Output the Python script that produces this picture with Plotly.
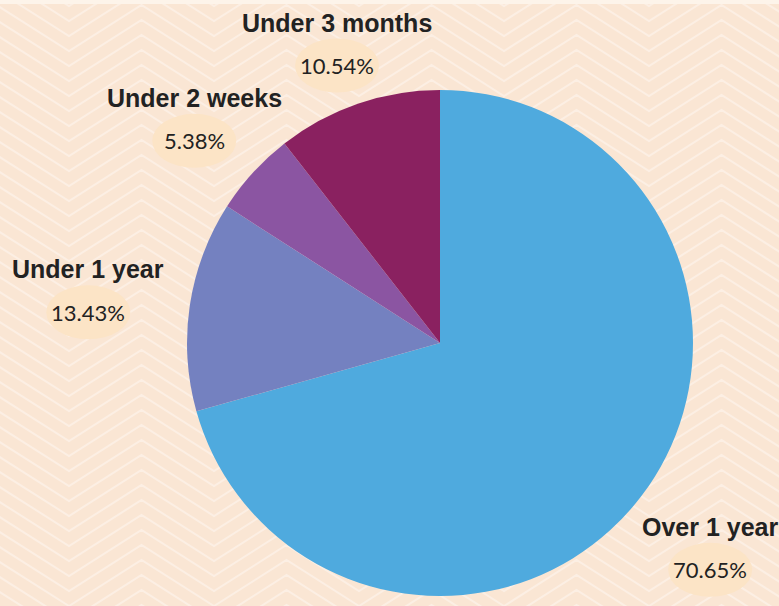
import math
import plotly.graph_objects as go

# ---- data ----
labels = ["Over 1 year", "Under 1 year", "Under 2 weeks", "Under 3 months"]
values = [70.65, 13.43, 5.38, 10.54]
colors = ["#4faade", "#7481c0", "#8b55a2", "#8a2160"]

W, H = 779, 606
CX, CY, R = 440, 343, 253

fig = go.Figure()

fig.add_trace(go.Pie(
    labels=labels, values=values, sort=False, direction="clockwise", rotation=0,
    marker=dict(colors=colors, line=dict(width=0)),
    textinfo="none", hoverinfo="label+percent", showlegend=False,
    domain=dict(x=[(CX - R) / W, (CX + R) / W],
                y=[(H - CY - R) / H, (H - CY + R) / H]),
))

# ---- chevron background ----
shapes = []
amp = 46
half = 72.5
segs = []
for k in range(52):
    y0 = -70 + 15 * k
    x = 69 - 145
    pts = []
    j = 0
    while x <= W + 150:
        yy = y0 + (amp if j % 2 == 0 else 0)
        pts.append(f"{x:.1f},{yy:.1f}")
        x += half
        j += 1
    segs.append("M" + " L".join(pts))
shapes.append(dict(type="path", path=" ".join(segs), xref="x", yref="y",
                   line=dict(color="#fcefe4", width=2), layer="below"))
# top strip
shapes.append(dict(type="rect", xref="x", yref="y", x0=0, x1=W, y0=0, y1=4,
                   fillcolor="#fdf4ea", line=dict(width=0), layer="below"))

# ---- labels ----
annotations = []
total = sum(values)
cum = 0.0
name_size = 25
gap = 24
block_h = 75
for lab, v in zip(labels, values):
    mid = (cum + v / 2) / total * 2 * math.pi
    cum += v
    dx, dy = math.sin(mid), -math.cos(mid)
    bw = 0.54 * 24 * len(lab)
    t = min((bw / 2) / max(abs(dx), 1e-6), (block_h / 2) / max(abs(dy), 1e-6))
    d = R + gap + t
    bx, by = CX + dx * d, CY + dy * d
    ny, py = by - 21, by + 22
    annotations.append(dict(x=bx, y=ny, xref="x", yref="y", text=f"<b>{lab}</b>",
                            showarrow=False, xanchor="center", yanchor="middle",
                            font=dict(family="Liberation Sans, Arial", size=name_size, color="#222222")))
    shapes.append(dict(type="circle", xref="x", yref="y", x0=bx - 42, x1=bx + 42,
                       y0=py - 27, y1=py + 27, fillcolor="#fce4c6", line=dict(width=0),
                       layer="below"))
    annotations.append(dict(x=bx, y=py, xref="x", yref="y", text=f"{v:.2f}%",
                            showarrow=False, xanchor="center", yanchor="middle",
                            font=dict(family="Lato, Open Sans", size=22, color="#222222")))

fig.update_layout(
    width=W, height=H, margin=dict(l=0, r=0, t=0, b=0),
    paper_bgcolor="#fae6d4", plot_bgcolor="#fae6d4",
    xaxis=dict(range=[0, W], visible=False, fixedrange=True, domain=[0, 1]),
    yaxis=dict(range=[H, 0], visible=False, fixedrange=True, domain=[0, 1]),
    shapes=shapes, annotations=annotations,
)

fig.write_html("out.html", config=dict(displayModeBar=False),
               post_script="document.body.style.margin='0';document.body.style.overflow='hidden';")
